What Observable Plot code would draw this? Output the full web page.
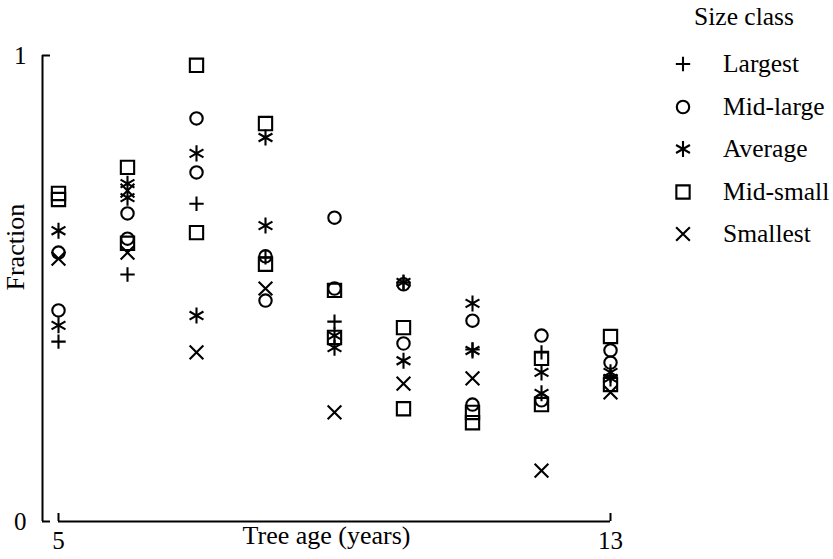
<!DOCTYPE html>
<html>
<head>
<meta charset="utf-8">
<script src="https://cdn.jsdelivr.net/npm/d3@7"></script>
<script src="https://cdn.jsdelivr.net/npm/@observablehq/plot@0.6"></script>
<style>
html, body { margin: 0; padding: 0; background: #fff; }
#wrap { position: relative; width: 833px; height: 559px; overflow: hidden; }
#wrap svg.plot { position: absolute; left: 0; top: 0; }
.lg { position: absolute; font-family: "Liberation Serif", "Times New Roman", serif; font-size: 25.5px; color: #000; }
.lg-title { left: 644px; top: 2px; width: 200px; text-align: center; line-height: 30px; }
.lg-rows { left: 672px; top: 42.75px; }
.lg-row { display: flex; align-items: center; height: 42.5px; }
.lg-row svg { width: 22px; height: 22px; flex: none; }
.lg-row span { margin-left: 29px; line-height: 30px; white-space: nowrap; }
</style>
</head>
<body>
<div id="wrap"></div>
<script>
// ---- data ----
const xTicks = [5, 13];
const yTicks = [0, 1];
const xLabel = "Tree age (years)";
const yLabel = "Fraction";
const legendTitle = "Size class";
const classes = ["Largest", "Mid-large", "Average", "Mid-small", "Smallest"];
const symbolNames = ["plus", "circle", "asterisk", "square", "times"];

// [tree age, fraction]
const largest = [[5,.386],[6,.530],[7,.682],[8,.567],[9,.429],[10,.513],[11,.369],[12,.363],[13,.313]];
const midLarge = [[5,.577],[5,.453],[6,.661],[6,.607],[7,.865],[7,.749],[8,.569],[8,.474],[9,.652],[9,.500],[10,.509],[10,.382],[11,.431],[11,.251],[12,.399],[12,.260],[13,.367],[13,.341]];
const average = [[5,.624],[5,.421],[6,.725],[6,.695],[7,.790],[7,.442],[8,.824],[8,.635],[9,.399],[9,.373],[10,.513],[10,.345],[11,.468],[11,.367],[12,.320],[12,.275],[13,.320],[13,.307]];
const midSmall = [[5,.704],[5,.691],[6,.760],[6,.597],[7,.979],[7,.620],[8,.854],[8,.552],[9,.496],[9,.395],[10,.416],[10,.242],[11,.234],[11,.212],[12,.350],[12,.251],[13,.397],[13,.294]];
const smallest = [[5,.564],[6,.577],[6,.710],[7,.363],[8,.500],[9,.234],[10,.296],[11,.307],[12,.109],[13,.277]];

// ---- styling ----
const series = [largest, midLarge, average, midSmall, smallest];
const radii = [4.7, 6.2, 7.6, 7.5, 6.3];
const font = "'Liberation Serif', 'Times New Roman', serif";
const sw = 2.1;

const rows = series.flatMap((s, i) => s.map(([age, frac]) => ({age, frac, cls: classes[i]})));

const plot = Plot.plot({
  width: 833,
  height: 559,
  marginLeft: 58,
  marginRight: 223,
  marginTop: 55,
  marginBottom: 38,
  style: {fontFamily: font, fontSize: "25px", color: "#000", background: "#fff"},
  x: {domain: xTicks, axis: null},
  y: {domain: yTicks, axis: null},
  symbol: {domain: classes, range: symbolNames},
  marks: [
    // y axis (offset left of the data)
    Plot.ruleX([xTicks[0]], {y1: yTicks[0], y2: yTicks[1], dx: -16, strokeWidth: 2, stroke: "#000"}),
    Plot.ruleY(yTicks, {x1: xTicks[0], x2: xTicks[0], dx: -16, insetRight: -8, strokeWidth: 2, stroke: "#000"}),
    // x axis
    Plot.ruleY([yTicks[0]], {x1: xTicks[0], x2: xTicks[1], strokeWidth: 2, stroke: "#000"}),
    Plot.ruleX(xTicks, {y1: yTicks[0], y2: yTicks[0], insetTop: -8, strokeWidth: 2, stroke: "#000"}),
    // tick labels
    Plot.text(yTicks, {x: xTicks[0], y: d => d, text: d => String(d), dx: -32, textAnchor: "end", fontSize: 25, fill: "#000"}),
    Plot.text(xTicks, {x: d => d, y: yTicks[0], text: d => String(d), dy: 19, fontSize: 25, fill: "#000"}),
    // axis labels
    Plot.text([xLabel], {frameAnchor: "bottom", text: d => d, dx: -8, dy: 22, fontSize: 26, fill: "#000"}),
    Plot.text([yLabel], {frameAnchor: "left", text: d => d, rotate: -90, dx: -43, dy: 2, fontSize: 26, fill: "#000"}),
    // points
    ...classes.map((c, i) => Plot.dot(rows.filter(d => d.cls === c), {
      x: "age", y: "frac", symbol: "cls", r: radii[i], stroke: "#000", fill: "none", strokeWidth: sw
    }))
  ]
});
plot.classList.add("plot");
const wrap = document.getElementById("wrap");
wrap.appendChild(plot);

// ---- legend ----
const d3sym = {plus: d3.symbolPlus, circle: d3.symbolCircle, asterisk: d3.symbolAsterisk, square: d3.symbolSquare, times: d3.symbolTimes};
const title = document.createElement("div");
title.className = "lg lg-title";
title.textContent = legendTitle;
wrap.appendChild(title);
const box = document.createElement("div");
box.className = "lg lg-rows";
classes.forEach((c, i) => {
  const row = document.createElement("div");
  row.className = "lg-row";
  const path = d3.symbol(d3sym[symbolNames[i]], Math.PI * radii[i] * radii[i])();
  row.innerHTML = `<svg viewBox="-11 -11 22 22"><path d="${path}" fill="none" stroke="#000" stroke-width="${sw}"/></svg><span></span>`;
  row.querySelector("span").textContent = c;
  box.appendChild(row);
});
wrap.appendChild(box);
</script>
</body>
</html>
